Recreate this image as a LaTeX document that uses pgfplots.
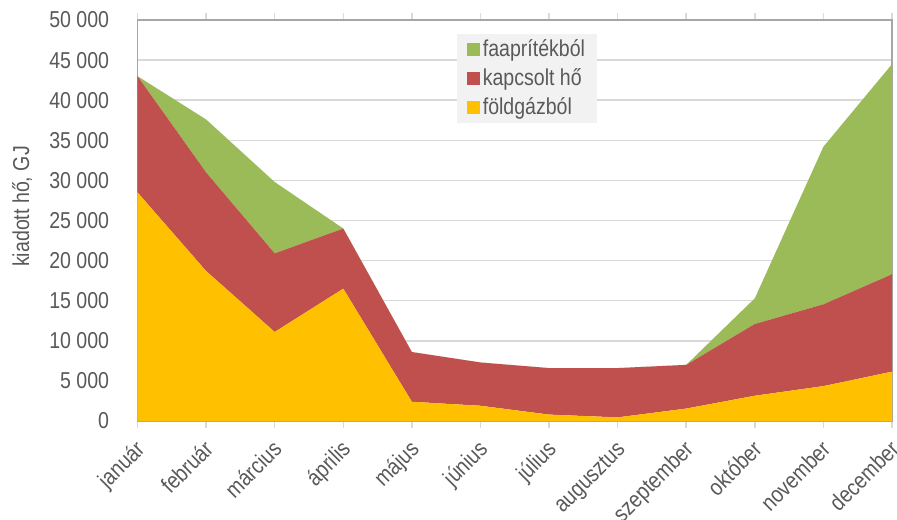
\documentclass[border=0pt]{standalone}
\usepackage{fontspec}
\setmainfont{Liberation Sans}[FakeStretch=0.85]
\usepackage{pgfplots}
\pgfplotsset{compat=1.18}
\definecolor{cgreen}{HTML}{9BBB59}
\definecolor{cred}{HTML}{C0504D}
\definecolor{cyellow}{HTML}{FFC000}
\definecolor{ctext}{HTML}{595959}
\definecolor{cgrid}{HTML}{D9D9D9}
\definecolor{cframe}{HTML}{A6A6A6}
\definecolor{clegend}{HTML}{F2F2F2}
\begin{document}
\begin{tikzpicture}
\begin{axis}[
  at={(0,0)}, anchor=south west,
  scale only axis, width=377.25pt, height=200.5pt,
  xmin=0, xmax=11, ymin=0, ymax=50000,
  stack plots=y,
  xtick={0,...,11},
  xticklabels={január,február,március,április,május,június,július,augusztus,szeptember,október,november,december},
  ytick={0,5000,...,50000},
  scaled y ticks=false,
  ymajorgrids, grid style={cgrid, line width=0.75pt},
  axis line style={cframe, line width=0.6pt},
  tick align=outside, major tick length=3.5pt,
  xtick style={cgrid, line width=0.75pt},
  ytick style={draw=none},
  tick label style={text=ctext, font=\fontsize{11.5}{14}\selectfont},
  xticklabel style={xshift=0.5pt, yshift=-7.5pt, rotate=45, anchor=north east, inner sep=0pt, text height=0.52em, text depth=0pt},
  yticklabel style={anchor=east, inner sep=0pt, xshift=-10.5pt},
  /pgf/number format/.cd, 1000 sep={\ }, assume math mode=true, /pgfplots/.cd,
  ylabel={kiadott hő, GJ},
  ylabel style={at={(axis description cs:-0.153,0.535)}, anchor=center, text=ctext, font=\fontsize{11.5}{14}\selectfont},
  reverse legend,
  legend cell align=left,
  legend image code/.code={\fill[#1, draw=none] (0pt,-3.25pt) rectangle (6.5pt,3.25pt);},
  legend style={at={(0.4235,0.965)}, anchor=north west, fill=clegend, draw=none,
    text=ctext, font=\fontsize{11.5}{14}\selectfont, inner xsep=5pt, inner ysep=0.8pt,
    nodes={inner sep=1.2pt, text height=8.8pt, text depth=2.4pt}, row sep=0.9pt},
]
\addplot[fill=cyellow, draw=none] coordinates {
(0,28500) (1,18700) (2,11100) (3,16500) (4,2400) (5,1900) (6,800) (7,450) (8,1550) (9,3150) (10,4350) (11,6150)
} \closedcycle;
\addlegendentry{földgázból}
\addplot[fill=cred, draw=none] coordinates {
(0,14500) (1,12300) (2,9800) (3,7500) (4,6200) (5,5400) (6,5800) (7,6150) (8,5450) (9,8950) (10,10200) (11,12150)
} \closedcycle;
\addlegendentry{kapcsolt hő}
\addplot[fill=cgreen, draw=none] coordinates {
(0,0) (1,6600) (2,8900) (3,0) (4,0) (5,0) (6,0) (7,0) (8,0) (9,3200) (10,19650) (11,26200)
} \closedcycle;
\addlegendentry{faaprítékból}
\end{axis}
\pgfresetboundingbox
\path[use as bounding box] (-68.75pt,-49pt) rectangle (379.75pt,210.5pt);
\end{tikzpicture}
\end{document}
